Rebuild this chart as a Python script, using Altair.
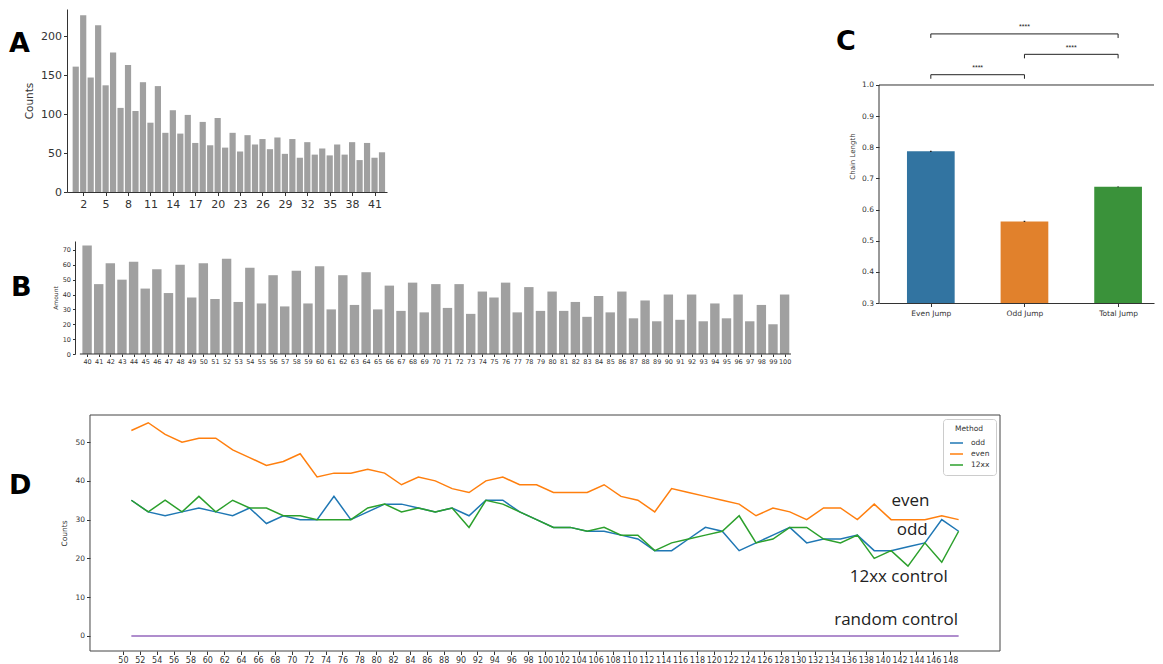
import json
import altair as alt
import pandas as pd

# ---------------- Panel A data ----------------
A_x = [1, 2, 3, 4, 5, 6, 7, 8, 9, 10, 11, 12, 13, 14, 15, 16, 17, 18, 19, 20, 21,
       22, 23, 24, 25, 26, 27, 28, 29, 30, 31, 32, 33, 34, 35, 36, 37, 38, 39, 40, 41, 42]
A_counts = [161, 227, 147, 214, 137, 179, 108, 163, 104, 141, 89, 136, 76, 105, 75, 99,
            63, 90, 60, 95, 57, 76, 52, 73, 61, 68, 55, 70, 49, 68, 44, 64, 48, 56, 47,
            61, 48, 64, 41, 63, 44, 51]
A_ticks = [2, 5, 8, 11, 14, 17, 20, 23, 26, 29, 32, 35, 38, 41]

# ---------------- Panel B data ----------------
B_x = [40, 41, 42, 43, 44, 45, 46, 47, 48, 49, 50, 51, 52, 53, 54, 55, 56, 57, 58, 59,
       60, 61, 62, 63, 64, 65, 66, 67, 68, 69, 70, 71, 72, 73, 74, 75, 76, 77, 78, 79,
       80, 81, 82, 83, 84, 85, 86, 87, 88, 89, 90, 91, 92, 93, 94, 95, 96, 97, 98, 99, 100]
B_amount = [73, 47, 61, 50, 62, 44, 57, 41, 60, 38, 61, 37, 64, 35, 58, 34, 53, 32, 56, 34,
            59, 30, 53, 33, 55, 30, 46, 29, 48, 28, 47, 31, 47, 27, 42, 38, 48, 28, 45, 29,
            42, 29, 35, 25, 39, 28, 42, 24, 36, 22, 40, 23, 40, 22, 34, 24, 40, 22, 33, 20, 40]

# ---------------- Panel C data ----------------
C_names = ["Even Jump", "Odd Jump", "Total Jump"]
C_values = [0.787, 0.562, 0.673]
C_err = [0.002, 0.002, 0.001]
C_pairs = [("Even Jump", "Odd Jump"), ("Odd Jump", "Total Jump"), ("Even Jump", "Total Jump")]
C_sig = ["****", "****", "****"]

# ---------------- Panel D data ----------------
D_x = [51, 53, 55, 57, 59, 61, 63, 65, 67, 69, 71, 73, 75, 77, 79, 81, 83, 85, 87, 89,
       91, 93, 95, 97, 99, 101, 103, 105, 107, 109, 111, 113, 115, 117, 119, 121, 123,
       125, 127, 129, 131, 133, 135, 137, 139, 141, 143, 145, 147, 149]
D_odd = [35, 32, 31, 32, 33, 32, 31, 33, 29, 31, 30, 30, 36, 30, 32, 34, 34, 33, 32, 33,
         31, 35, 35, 32, 30, 28, 28, 27, 27, 26, 25, 22, 22, 25, 28, 27, 22, 24, 26, 28,
         24, 25, 25, 26, 22, 22, 23, 24, 30, 27]
D_even = [53, 55, 52, 50, 51, 51, 48, 46, 44, 45, 47, 41, 42, 42, 43, 42, 39, 41, 40, 38,
          37, 40, 41, 39, 39, 37, 37, 37, 39, 36, 35, 32, 38, 37, 36, 35, 34, 31, 33, 32,
          30, 33, 33, 30, 34, 30, 30, 30, 31, 30]
D_12xx = [35, 32, 35, 32, 36, 32, 35, 33, 33, 31, 31, 30, 30, 30, 33, 34, 32, 33, 32, 33,
          28, 35, 34, 32, 30, 28, 28, 27, 28, 26, 26, 22, 24, 25, 26, 27, 31, 24, 25, 28,
          28, 25, 24, 26, 20, 22, 18, 24, 19, 27]
D_random = [0, 0, 0, 0, 0, 0, 0, 0, 0, 0, 0, 0, 0, 0, 0, 0, 0, 0, 0, 0, 0, 0, 0, 0, 0,
            0, 0, 0, 0, 0, 0, 0, 0, 0, 0, 0, 0, 0, 0, 0, 0, 0, 0, 0, 0, 0, 0, 0, 0, 0]
D_methods = ["odd", "even", "12xx"]
D_ticks = [50, 52, 54, 56, 58, 60, 62, 64, 66, 68, 70, 72, 74, 76, 78, 80, 82, 84, 86, 88,
           90, 92, 94, 96, 98, 100, 102, 104, 106, 108, 110, 112, 114, 116, 118, 120, 122,
           124, 126, 128, 130, 132, 134, 136, 138, 140, 142, 144, 146, 148]
D_ann_text = ["even", "odd", "12xx control", "random control"]
D_ann_x = [143.3, 143.5, 141.9, 141.6]
D_ann_y = [34.9, 27.4, 15.2, 4.0]

# ---------------- styles ----------------
BAR_GRAY = "#a0a0a0"
C_colors = ["#3274a1", "#e1812c", "#3a923a"]
D_colors = ["#1f77b4", "#ff7f0e", "#2ca02c"]
RANDOM_COLOR = "#9467bd"
AXC = "#333333"
LETTER_DX = -58

one = pd.DataFrame({"k": [0]})


def letter(t, dx, dy):
    return alt.Chart(one).mark_text(
        text=t, fontSize=27, fontWeight=900, font="DejaVu Sans", color="black",
        align="left", baseline="middle"
    ).encode(x=alt.value(dx), y=alt.value(dy))


# ---------------- Panel A ----------------
dfA = pd.DataFrame({"len": A_x, "count": A_counts})
A_bars = alt.Chart(dfA).mark_bar(width=6.2, color=BAR_GRAY, clip=True).encode(
    x=alt.X("len:Q", scale=alt.Scale(domain=[0.5, 42], nice=False, zero=False),
            axis=alt.Axis(values=A_ticks, title=None, labelFontSize=11, labelAngle=0,
                          labelPadding=3)),
    y=alt.Y("count:Q", scale=alt.Scale(domain=[0, 235], nice=False),
            axis=alt.Axis(values=[0, 50, 100, 150, 200], title="Counts", titleFontSize=10.5,
                          labelFontSize=11, titlePadding=6)),
    y2=alt.datum(0),
)
A = alt.layer(A_bars, letter("A", LETTER_DX, 35)).properties(width=320, height=183)

# ---------------- Panel B ----------------
B_SHIFT = 8  # px between panel origin and B's left spine
B_LO, B_HI = 39.38, 100.55
B_PX = 11.8
dfB = pd.DataFrame({"len": B_x, "amount": B_amount})
dfBbase = pd.DataFrame({"len": [B_LO], "len2": [B_HI], "amount": [0]})
bx = alt.X("len:Q", scale=alt.Scale(domain=[B_LO - B_SHIFT / B_PX, B_HI], nice=False, zero=False),
           axis=alt.Axis(values=B_x, title=None, labelFontSize=6.5, labelAngle=0, domain=False,
                         tickSize=2.5, labelPadding=2, labelOverlap=False, labelFlush=False))
by = alt.Y("amount:Q", scale=alt.Scale(domain=[0, 76], nice=False),
           axis=alt.Axis(values=[0, 10, 20, 30, 40, 50, 60, 70], title="Amount", offset=-B_SHIFT,
                         titleFontSize=6, labelFontSize=6.5, tickSize=2.5, titlePadding=4,
                         labelOverlap=False))
B_bars = alt.Chart(dfB).mark_bar(width=9.4, color=BAR_GRAY, clip=True).encode(
    x=bx, y=by, y2=alt.datum(0))
B_base = alt.Chart(dfBbase).mark_rule(color=AXC, strokeWidth=1).encode(
    x=bx, x2="len2:Q", y=by)
B = alt.layer(B_bars, B_base, letter("B", LETTER_DX + 2, 47)).properties(
    width=721 + B_SHIFT, height=113)

# ---------------- Panel C ----------------
C_LO, C_HI = -0.5, 2.33
C_W, C_H = round((C_HI - C_LO) * 97.24), 294
dfC = pd.DataFrame({"idx": list(range(len(C_names))), "name": C_names,
                    "val": C_values, "err": C_err})
labexpr = json.dumps(C_names) + "[datum.value]"
cx_scale = alt.Scale(domain=[C_LO, C_HI], nice=False, zero=False)
cx_axis = alt.Axis(values=[0, 1, 2], labelExpr=labexpr, title=None, labelFontSize=7.5,
                   tickSize=3.5, labelPadding=3, labelFlush=False)
cy_scale = alt.Scale(domain=[0.3, 1.244], nice=False, zero=False)
cy_axis = alt.Axis(values=[0.3, 0.4, 0.5, 0.6, 0.7, 0.8, 0.9, 1.0], format=".1f",
                   title="Chain Length", titleFontSize=7, labelFontSize=7.5,
                   domain=False, tickSize=3.5, titlePadding=6)


def CX(f):
    return alt.X(f, scale=cx_scale, axis=cx_axis)


def CY(f):
    return alt.Y(f, scale=cy_scale, axis=cy_axis)


C_bars = alt.Chart(dfC).mark_bar(width=47.7).encode(
    x=CX("idx:Q"), y=CY("val:Q"), y2=alt.datum(0.3),
    color=alt.Color("name:N", scale=alt.Scale(domain=C_names, range=C_colors), legend=None),
)
C_errbars = alt.Chart(dfC).transform_calculate(
    lo="datum.val - datum.err", hi="datum.val + datum.err"
).mark_rule(color="#222", strokeWidth=1.6).encode(x=CX("idx:Q"), y=CY("lo:Q"), y2="hi:Q")
C_left = alt.Chart(one).mark_rule(color=AXC, strokeWidth=1).encode(
    x=alt.value(0), y=alt.datum(0.3), y2=alt.datum(1.0))
C_top = alt.Chart(one).mark_rule(color=AXC, strokeWidth=1).encode(
    x=alt.value(0), x2=alt.value(C_W), y=alt.datum(1.0))

br_rows = []
for lvl, ((a, b), s) in enumerate(zip(C_pairs, C_sig)):
    ya = 1.033 + lvl * 0.0655
    ia, ib = C_names.index(a), C_names.index(b)
    br_rows.append({"x1": ia, "x2": ib, "ly": ya, "lt": ya - 0.013, "ty": ya + 0.021,
                    "sig": s, "mid": (ia + ib) / 2})
dfBr = pd.DataFrame(br_rows)
C_br_h = alt.Chart(dfBr).mark_rule(color="#222", strokeWidth=1).encode(
    x=CX("x1:Q"), x2="x2:Q", y=CY("ly:Q"))
C_br_l = alt.Chart(dfBr).mark_rule(color="#222", strokeWidth=1).encode(
    x=CX("x1:Q"), y=CY("lt:Q"), y2="ly:Q")
C_br_r = alt.Chart(dfBr).mark_rule(color="#222", strokeWidth=1).encode(
    x=CX("x2:Q"), y=CY("lt:Q"), y2="ly:Q")
C_br_t = alt.Chart(dfBr).mark_text(fontSize=7, color="#222", baseline="middle").encode(
    x=CX("mid:Q"), y=CY("ty:Q"), text="sig:N")

C = alt.layer(C_bars, C_errbars, C_left, C_top, C_br_h, C_br_l, C_br_r, C_br_t,
              letter("C", -43, 33)).properties(width=C_W, height=C_H)

# ---------------- Panel D ----------------
D_SHIFT = 23  # px between panel origin and D's frame
D_LO, D_HI = 46.1, 153.9
D_PX = 8.442
D_YLO, D_YHI = -3.9, 57.0
rows = []
for m, series in zip(D_methods, [D_odd, D_even, D_12xx]):
    for xv, yv in zip(D_x, series):
        rows.append({"x": xv, "count": yv, "method": m})
dfD = pd.DataFrame(rows)
dfR = pd.DataFrame({"x": D_x, "count": D_random})
dfAnn = pd.DataFrame({"x": D_ann_x, "count": D_ann_y, "t": D_ann_text})
dfFrame = pd.DataFrame({"x": [D_LO, D_HI, D_LO, D_LO], "xe": [D_LO, D_HI, D_HI, D_HI],
                        "count": [D_YLO, D_YLO, D_YHI, D_YLO],
                        "ce": [D_YHI, D_YHI, D_YHI, D_YLO]})

dx_enc = alt.X("x:Q", scale=alt.Scale(domain=[D_LO - D_SHIFT / D_PX, D_HI], nice=False, zero=False),
               axis=alt.Axis(values=D_ticks, title=None, labelFontSize=8, labelAngle=0,
                             domain=False, labelOverlap=False, labelFlush=False, tickSize=3.5,
                             labelPadding=2))
dy_enc = alt.Y("count:Q", scale=alt.Scale(domain=[D_YLO, D_YHI], nice=False, zero=False),
               axis=alt.Axis(values=[0, 10, 20, 30, 40, 50], title="Counts", offset=-D_SHIFT,
                             domain=False, titleFontSize=7.5, labelFontSize=7.5, tickSize=3.5,
                             titlePadding=6, labelOverlap=False))
D_lines = alt.Chart(dfD).mark_line(strokeWidth=1.5).encode(
    x=dx_enc, y=dy_enc,
    color=alt.Color("method:N", scale=alt.Scale(domain=D_methods, range=D_colors),
                    legend=alt.Legend(title="Method", orient="top-right", offset=4,
                                      titleFontSize=7.5, labelFontSize=7.5,
                                      titleFontWeight="normal", titleAnchor="middle",
                                      symbolType="stroke", symbolSize=170,
                                      symbolStrokeWidth=1.5, strokeColor="#cccccc",
                                      fillColor="white", padding=6, cornerRadius=3,
                                      rowPadding=0, labelOffset=7, titlePadding=3,
                                      labelColor="#333", titleColor="#333")),
)
D_rand = alt.Chart(dfR).mark_line(strokeWidth=1.5, color=RANDOM_COLOR).encode(
    x=dx_enc, y=dy_enc)
D_ann = alt.Chart(dfAnn).mark_text(font="Open Sans", fontSize=17, color="#222",
                                   baseline="middle").encode(x=dx_enc, y=dy_enc, text="t:N")
D_frame = alt.Chart(dfFrame).mark_rule(color="#444444", strokeWidth=1).encode(
    x=dx_enc, x2="xe:Q", y=dy_enc, y2="ce:Q")
D = alt.layer(D_lines, D_frame, D_rand, D_ann,
              letter("D", LETTER_DX, 71)).properties(width=910 + D_SHIFT, height=236)

# ---------------- layout ----------------
AB = alt.vconcat(A, B, spacing=30)
top = alt.hconcat(AB, C, spacing=38).resolve_scale(color="independent").resolve_legend(
    color="independent")
chart = alt.vconcat(top, D, spacing=48).resolve_scale(color="independent").resolve_legend(
    color="independent").properties(
    padding={"left": 0, "top": 0, "right": 0, "bottom": 0}
).configure_axis(
    grid=False, labelFont="DejaVu Sans", titleFont="DejaVu Sans",
    titleFontWeight="normal", domainColor=AXC, tickColor=AXC, labelColor=AXC,
    titleColor=AXC, tickSize=3.5,
).configure_view(stroke="transparent").configure_legend(
    labelFont="DejaVu Sans", titleFont="DejaVu Sans")

chart.save("out.html", embed_options={"renderer": "svg", "actions": False})
